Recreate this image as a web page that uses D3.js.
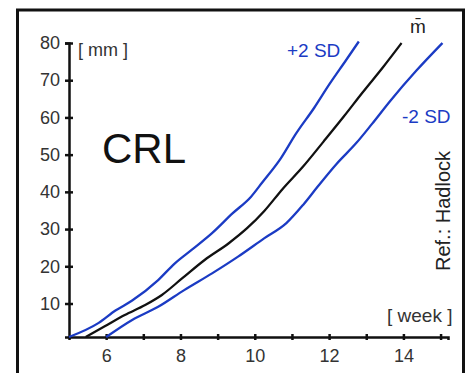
<!DOCTYPE html>
<html>
<head>
<meta charset="utf-8">
<script src="https://cdn.jsdelivr.net/npm/d3@7"></script>
<style>
  html, body { margin: 0; padding: 0; background: #fff; }
  svg { display: block; }
  text { font-family: "Liberation Sans", Arial, Helvetica, sans-serif; }
</style>
</head>
<body>
<div id="chart"></div>
<script>
// ---- data ----
const xTicks = [6, 7, 8, 9, 10, 11, 12, 13, 14, 15];
const xTickLabels = ["6", "", "8", "", "10", "", "12", "", "14", ""];
const yTicks = [10, 20, 30, 40, 50, 60, 70, 80];

const upperWeeks  = [5, 5.8, 6.25, 6.7, 7.4, 7.85, 8.3, 8.85, 9.4, 9.9, 10.2, 10.7, 11.1, 11.6, 12.0, 12.45, 12.8];
const upperValues = [1, 4.8, 8.1, 10.8, 16.3, 20.8, 24.4, 28.9, 34.2, 38.7, 42.5, 49.0, 55.5, 62.6, 68.8, 75.3, 80.4];

const meanWeeks  = [5.45, 5.95, 6.5, 7.05, 7.5, 8.05, 8.65, 9.3, 9.8, 10.25, 10.75, 11.3, 11.85, 12.4, 12.9, 13.45, 13.95];
const meanValues = [1, 3.8, 6.9, 9.6, 12.3, 16.8, 21.7, 26.2, 30.3, 34.8, 40.8, 46.8, 53.5, 60.3, 66.7, 73.5, 80.0];

const lowerWeeks  = [6.0, 6.7, 7.4, 8.1, 8.85, 9.55, 10.25, 10.85, 11.3, 11.7, 12.2, 12.73, 13.15, 13.65, 14.35, 15.05];
const lowerValues = [1, 5.6, 9.1, 13.6, 18.1, 22.6, 27.5, 31.6, 36.5, 41.5, 47.5, 53.1, 58.2, 64.5, 72.6, 80.0];

const blue = "#1b3bc4";
const W = 471, H = 373;

const svg = d3.select("#chart").append("svg")
  .attr("width", W).attr("height", H);

// outer frame
svg.append("rect")
  .attr("x", 17.5).attr("y", 10)
  .attr("width", 446).attr("height", 420)
  .attr("fill", "none").attr("stroke", "#111").attr("stroke-width", 3);

const x = d3.scaleLinear().domain([5, 15.2]).range([69, 448]);
const y = d3.scaleLinear().domain([1, 80]).range([337, 43]);

// x axis
const xAxis = svg.append("g")
  .attr("transform", `translate(0,${y(1)})`)
  .call(d3.axisBottom(x).tickValues(xTicks)
    .tickFormat((d, i) => xTickLabels[i]).tickSizeOuter(0).tickSize(3).tickPadding(9));
xAxis.select(".domain").attr("stroke", "#111").attr("stroke-width", 2.5);
xAxis.selectAll(".tick line").attr("y1", -3).attr("y2", 3)
  .attr("stroke", "#111").attr("stroke-width", 2.5);
xAxis.selectAll(".tick text").attr("font-size", 18).attr("fill", "#333")
  .style("font-family", "'Liberation Sans', Arial, sans-serif");

// y axis
const yAxis = svg.append("g")
  .attr("transform", `translate(${x(5)},0)`)
  .call(d3.axisLeft(y).tickValues(yTicks).tickSizeOuter(0).tickSize(4).tickPadding(5));
yAxis.select(".domain").attr("stroke", "#111").attr("stroke-width", 2.5);
yAxis.selectAll(".tick line").attr("x1", -4).attr("x2", 4)
  .attr("stroke", "#111").attr("stroke-width", 2.5);
yAxis.selectAll(".tick text").attr("font-size", 18).attr("fill", "#333")
  .style("font-family", "'Liberation Sans', Arial, sans-serif");

const line = d3.line().x(d => x(d[0])).y(d => y(d[1])).curve(d3.curveMonotoneX);
const zip = (a, b) => a.map((v, i) => [v, b[i]]);

svg.append("path").datum(zip(upperWeeks, upperValues))
  .attr("d", line).attr("fill", "none").attr("stroke", blue).attr("stroke-width", 2.3);
svg.append("path").datum(zip(lowerWeeks, lowerValues))
  .attr("d", line).attr("fill", "none").attr("stroke", blue).attr("stroke-width", 2.3);
svg.append("path").datum(zip(meanWeeks, meanValues))
  .attr("d", line).attr("fill", "none").attr("stroke", "#111").attr("stroke-width", 2.3);

// labels
svg.append("text").attr("x", 78).attr("y", 56).attr("font-size", 18).attr("fill", "#333").text("[ mm ]");
svg.append("text").attr("x", 102).attr("y", 163).attr("font-size", 42).attr("fill", "#111").text("CRL");
svg.append("text").attr("x", 287).attr("y", 57).attr("font-size", 19).attr("fill", blue).text("+2 SD");
svg.append("text").attr("x", 402).attr("y", 123).attr("font-size", 19).attr("fill", blue).text("-2 SD");
svg.append("text").attr("x", 418).attr("y", 33).attr("font-size", 19).attr("fill", "#222")
  .attr("text-anchor", "middle").text("m\u0304");
svg.append("text").attr("x", 387).attr("y", 322).attr("font-size", 19).attr("fill", "#333").text("[ week ]");
svg.append("text").attr("transform", "translate(450,211) rotate(-90)")
  .attr("text-anchor", "middle").attr("font-size", 20).attr("fill", "#222").text("Ref.: Hadlock");
</script>
</body>
</html>
